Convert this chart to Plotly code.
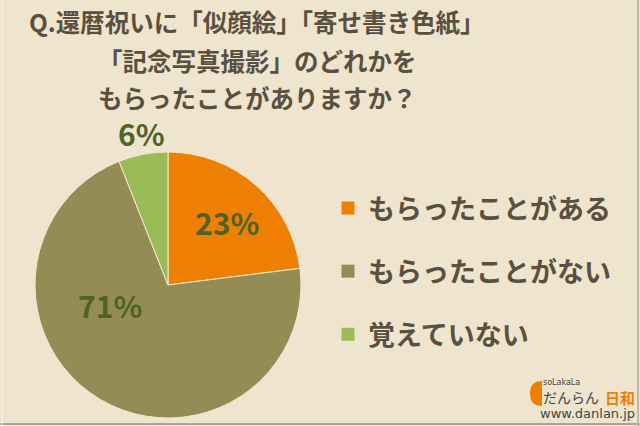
import plotly.graph_objects as go

categories = ["もらったことがある", "もらったことがない", "覚えていない"]
values = [23, 71, 6]
colors = ["#EE7F00", "#958B55", "#9BBB59"]
title_lines = ["Q.還暦祝いに「似顔絵」「寄せ書き色紙」", "「記念写真撮影」のどれかを", "もらったことがありますか？"]

W, H = 640, 426
BG = "#EFE4CE"
TXT = "#5A5040"
LBL = "#4F6228"
FONT = "Noto Sans CJK JP"

fig = go.Figure()

cx, cy, r = 168, 285, 133
fig.add_trace(go.Pie(
    labels=categories, values=values, sort=False, direction="clockwise", rotation=0,
    marker=dict(colors=colors, line=dict(color="#F3E8D2", width=1)),
    textinfo="none",
    showlegend=False, hoverinfo="label+value",
    domain=dict(x=[(cx - r) / W, (cx + r) / W], y=[1 - (cy + r) / H, 1 - (cy - r) / H]),
))

for i, (c, col) in enumerate(zip(categories, colors)):
    fig.add_trace(go.Scatter(
        x=[None], y=[None], mode="markers", name=f"<b>{c}</b>", legendgroup=f"g{i}",
        marker=dict(symbol="square", size=13, color=col),
        showlegend=True,
    ))

fig.update_xaxes(visible=False)
fig.update_yaxes(visible=False)

annotations = []
for line, yy in zip(title_lines, [22, 60, 97]):
    annotations.append(dict(text=f"<b>{line}</b>", x=257 / W, y=1 - yy / H, xref="paper", yref="paper",
                            xanchor="center", yanchor="middle", showarrow=False,
                            font=dict(family=FONT, size=24.5, color=TXT)))

# percentage labels (positions as placed in the reference)
label_pos = [(227, 222), (110, 305), (141, 133)]
for v, (lx, ly) in zip(values, label_pos):
    annotations.append(dict(text=f"<b>{v}%</b>", x=lx / W, y=1 - ly / H, xref="paper", yref="paper",
                            xanchor="center", yanchor="middle", showarrow=False,
                            font=dict(family=FONT, size=30, color=LBL)))

# logo
annotations += [
    dict(text="soLakaLa", x=541 / W, y=1 - 382 / H, xref="paper", yref="paper", xanchor="left", yanchor="middle",
         showarrow=False, font=dict(family="DejaVu Sans", size=8, color="#444444")),
    dict(text="だんらん", x=541 / W, y=1 - 397 / H, xref="paper", yref="paper", xanchor="left", yanchor="middle",
         showarrow=False, font=dict(family=FONT, size=14, color="#444444")),
    dict(text="<b>日和</b>", x=603 / W, y=1 - 397 / H, xref="paper", yref="paper", xanchor="left", yanchor="middle",
         showarrow=False, font=dict(family=FONT, size=15, color="#EE7F00")),
    dict(text="www.danlan.jp", x=637 / W, y=1 - 413 / H, xref="paper", yref="paper", xanchor="right", yanchor="middle",
         showarrow=False, font=dict(family="DejaVu Sans", size=13, color="#444444")),
]

shapes = [
    dict(type="path", xref="paper", yref="paper",
         path=f"M {542/W} {1-381/H} Q {530/W} {1-381/H} {530/W} {1-393.5/H} Q {530/W} {1-406/H} {542/W} {1-406/H} Z",
         fillcolor="#EE7F00", line=dict(width=0)),
    dict(type="line", xref="paper", yref="paper", x0=0, x1=1, y0=2 / H, y1=2 / H, line=dict(color="#A8A59E", width=2)),
    dict(type="line", xref="paper", yref="paper", x0=1 - 2 / W, x1=1 - 2 / W, y0=0, y1=1, line=dict(color="#BDB8AE", width=2)),
    dict(type="line", xref="paper", yref="paper", x0=2 / W, x1=2 / W, y0=0, y1=1, line=dict(color="#F8F2E6", width=1)),
]

fig.update_layout(
    width=W, height=H, margin=dict(l=0, r=0, t=0, b=0),
    paper_bgcolor=BG, plot_bgcolor=BG,
    legend=dict(x=328 / W, y=1 - 184 / H, xanchor="left", yanchor="top",
                font=dict(family=FONT, size=27, color=TXT),
                traceorder="grouped", tracegroupgap=25, bgcolor="rgba(0,0,0,0)", itemclick=False),
    annotations=annotations, shapes=shapes,
)

fig.write_html("out.html", config={"displayModeBar": False},
               post_script="document.body.style.margin='0';document.body.style.overflow='hidden';")
